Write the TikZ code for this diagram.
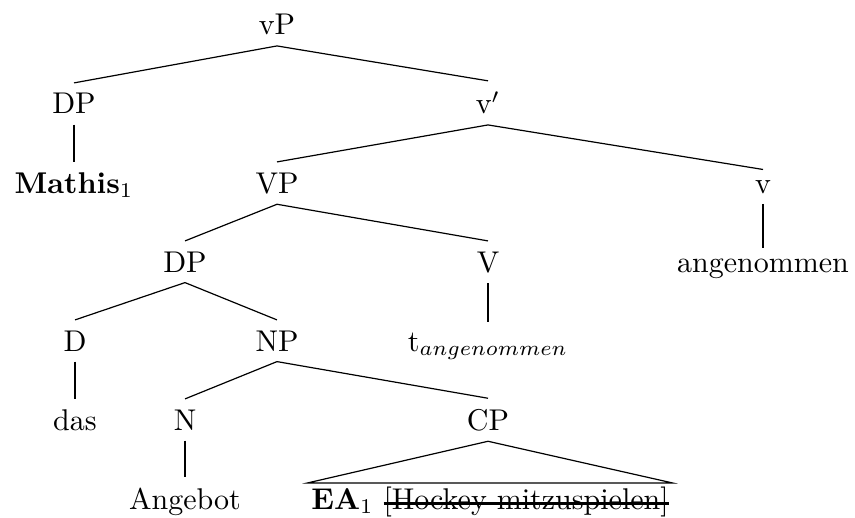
\documentclass[tikz,border=0pt]{standalone}
\usepackage{tikz}
\usepackage{amssymb,amsmath}
\newsavebox\strikebox
\newcommand{\gestrichen}[1]{\sbox\strikebox{#1}\rlap{\rule[1.4pt]{\wd\strikebox}{0.8pt}}\usebox\strikebox}

\begin{document}
\begin{tikzpicture}[
                  x = 0.3333pt,
                  y = -0.3333pt,
  every node/.style = {anchor=base},
         roof/.style = {inner sep=1pt},
                   ]
\useasboundingbox (0,0) rectangle (855,517);
% categories, one row per level
\node (vP)         at (277,35)  {vP};
\node (dpSubj)     at (74,114)  {DP};
\node (vbar)       at (488,114) {v$'$};
\node (mathis)     at (74,193)  {\textbf{Mathis}$_1$};
\node (VP)         at (277,193) {VP};
\node (v)          at (763,193) {v};
\node (dpObj)      at (185,272) {DP};
\node (V)          at (488,272) {V};
\node (angenommen) at (763,272) {angenommen};
\node (D)          at (75,351)  {D};
\node (NP)         at (277,351) {NP};
\node (trace)      at (488,351) {t$_{angenommen}$};
\node (das)        at (75,430)  {das};
\node (N)          at (185,430) {N};
\node (CP)         at (488,430) {CP};
\node (angebot)    at (185,509) {Angebot};
\node[roof] (cpyield) at (490,509) {\textbf{EA}$_1$ \gestrichen{[Hockey mitzuspielen]}};
% branches
\draw (vP.south) -- (dpSubj.north);
\draw (vP.south) -- (vbar.north);
\draw (dpSubj.south) -- (mathis.north);
\draw (vbar.south) -- (VP.north);
\draw (vbar.south) -- (v.north);
\draw (VP.south) -- (dpObj.north);
\draw (VP.south) -- (V.north);
\draw (v.south) -- (angenommen.north);
\draw (dpObj.south) -- (D.north);
\draw (dpObj.south) -- (NP.north);
\draw (V.south) -- (trace.north);
\draw (D.south) -- (das.north);
\draw (NP.south) -- (N.north);
\draw (NP.south) -- (CP.north);
\draw (N.south) -- (angebot.north);
%\draw (CP.south) -- (cpyield.north);%<---- roof instead
\draw (CP.south) -- (cpyield.north west) -- (cpyield.north east) -- cycle;
\end{tikzpicture}
\end{document}
